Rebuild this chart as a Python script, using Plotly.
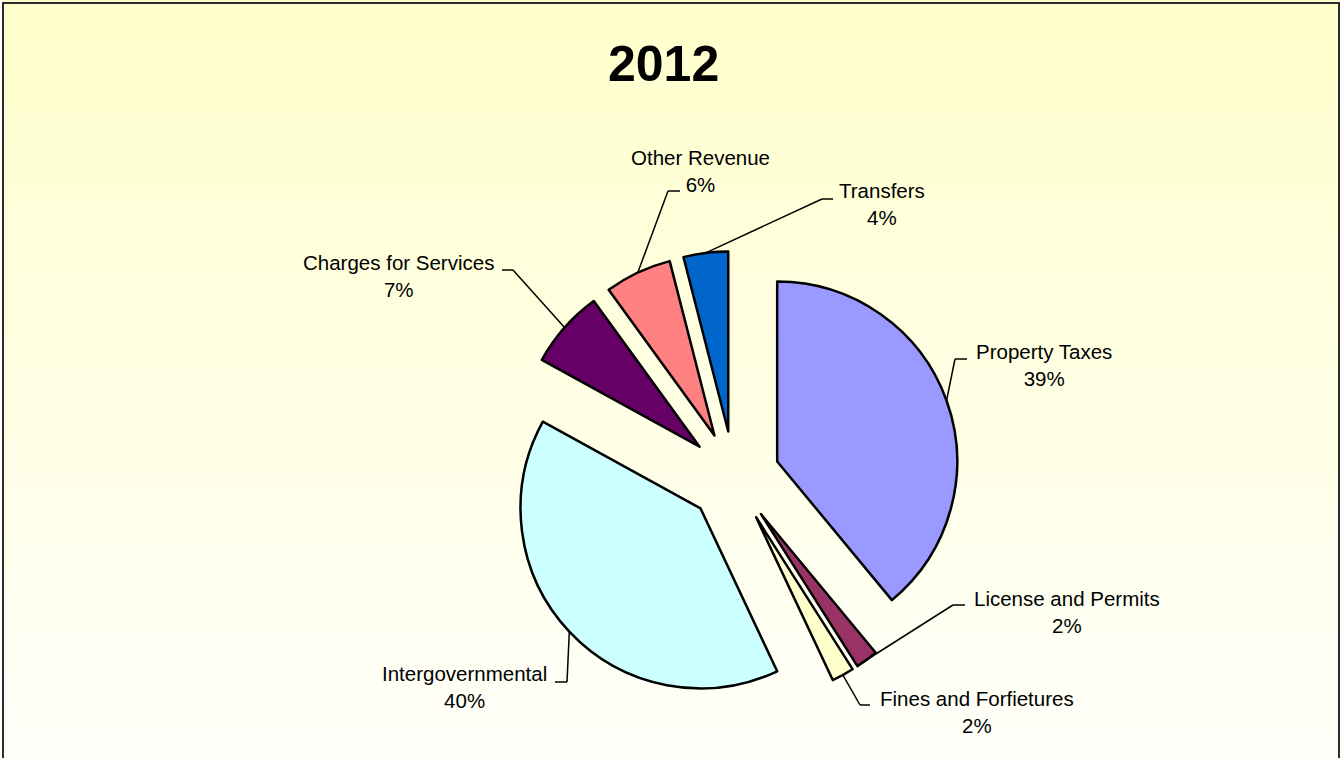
import numpy as np
import plotly.graph_objects as go

# Revenue shares by source, 2012
categories = ["Property Taxes", "License and Permits", "Fines and Forfietures",
              "Intergovernmental", "Charges for Services", "Other Revenue", "Transfers"]
shares = [39, 2, 2, 40, 7, 6, 4]
slice_colors = ["#9999FF", "#993366", "#FFFFCC", "#CCFFFF", "#660066", "#FF8080", "#0066CC"]
chart_title = "2012"

# ---- layout geometry (pixels) ----
W, H = 1342, 758
explode = 0.255           # pull of every slice, fraction of radius
cx, cy = 734, 477         # pie centre
radius = 180
half = radius * (1 + explode)

# label text centres and leader elbows / ends, in pixels
label_center = {
    "Property Taxes": (1044, 365),
    "License and Permits": (1067, 612),
    "Fines and Forfietures": (977, 712),
    "Intergovernmental": (464, 687),
    "Charges for Services": (398, 276),
    "Other Revenue": (700, 171),
    "Transfers": (882, 204),
}
leader_elbow = {
    "Property Taxes": ((955, 359), (967, 359)),
    "License and Permits": ((953, 605), (965, 605)),
    "Fines and Forfietures": ((860, 705), (870, 705)),
    "Intergovernmental": ((567, 682), (555, 682)),
    "Charges for Services": ((513, 270), (502, 270)),
    "Other Revenue": ((668, 191), (680, 191)),
    "Transfers": ((822, 199), (833, 199)),
}


def px(x, y):
    return x / W, 1 - y / H


fig = go.Figure()
fig.add_trace(go.Pie(
    labels=categories,
    values=shares,
    sort=False,
    direction="clockwise",
    rotation=0,
    pull=[explode] * len(shares),
    marker=dict(colors=slice_colors, line=dict(color="#000000", width=2.5)),
    textinfo="none",
    hoverinfo="label+percent",
    showlegend=False,
    domain=dict(x=[(cx - half) / W, (cx + half) / W],
                y=[1 - (cy + half) / H, 1 - (cy - half) / H]),
))

shapes = []
# soft yellow-to-white background gradient
n_bands = 90
top_rgb = np.array([255, 255, 204])
bot_rgb = np.array([255, 255, 250])
for i in range(n_bands):
    t = (i + 0.5) / n_bands
    c = top_rgb + (bot_rgb - top_rgb) * t
    shapes.append(dict(
        type="rect", xref="paper", yref="paper", layer="below",
        x0=3 / W, x1=1339 / W, y0=1 - (i + 1) / n_bands - 0.002, y1=1 - i / n_bands,
        fillcolor="rgb(%d,%d,%d)" % tuple(c.round().astype(int)), line=dict(width=0),
    ))
# chart frame
shapes.append(dict(type="rect", xref="paper", yref="paper", layer="above",
                   x0=3 / W, x1=1339 / W, y0=-0.02, y1=1 - 3 / H,
                   line=dict(color="#2b2b2b", width=2), fillcolor="rgba(0,0,0,0)"))

# leader lines from each slice's outer arc to its label
total = float(sum(shares))
cum = np.cumsum([0] + shares)
annotations = []
for k, name in enumerate(categories):
    mid = np.deg2rad((cum[k] + shares[k] / 2) / total * 360)
    ax = cx + radius * (1 + explode) * np.sin(mid)
    ay = cy - radius * (1 + explode) * np.cos(mid)
    (ex, ey), (hx, hy) = leader_elbow[name]
    for (x0, y0), (x1, y1) in [((ax, ay), (ex, ey)), ((ex, ey), (hx, hy))]:
        a0, b0 = px(x0, y0)
        a1, b1 = px(x1, y1)
        shapes.append(dict(type="line", xref="paper", yref="paper",
                           x0=a0, y0=b0, x1=a1, y1=b1,
                           line=dict(color="#000000", width=1.5)))
    lx, ly = px(*label_center[name])
    pct = round(shares[k] / total * 100)
    annotations.append(dict(
        text=f"{name}<br>{pct}%", x=lx, y=ly, xref="paper", yref="paper",
        xanchor="center", yanchor="middle", showarrow=False, align="center",
        font=dict(family="Liberation Sans, Arial, sans-serif", size=20.5, color="#000000"),
    ))

tx, ty = px(663, 64)
annotations.append(dict(
    text=f"<b>{chart_title}</b>", x=tx, y=ty, xref="paper", yref="paper",
    xanchor="center", yanchor="middle", showarrow=False,
    font=dict(family="Liberation Sans, Arial, sans-serif", size=50, color="#000000"),
))

fig.update_layout(
    width=W, height=H,
    margin=dict(l=0, r=0, t=0, b=0),
    paper_bgcolor="#FFFFFF",
    plot_bgcolor="#FFFFFF",
    shapes=shapes,
    annotations=annotations,
    showlegend=False,
)

fig.write_html("out.html")
